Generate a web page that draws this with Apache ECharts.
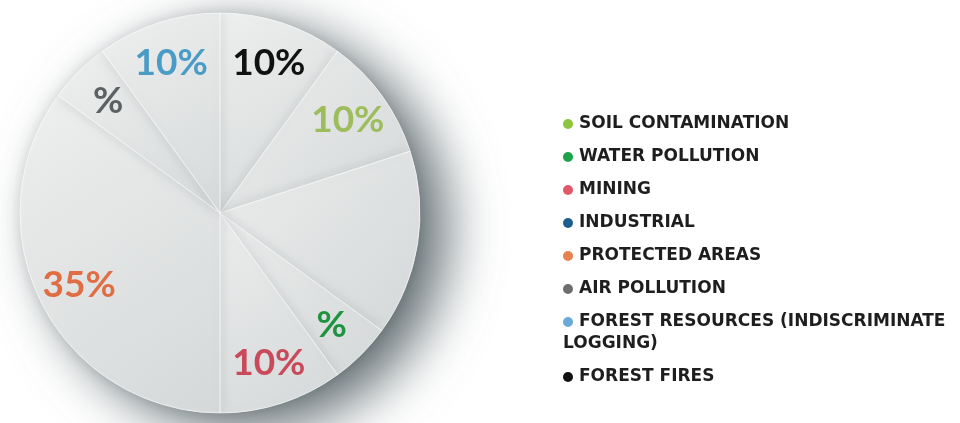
<!DOCTYPE html>
<html><head><meta charset="utf-8">
<script src="https://cdn.jsdelivr.net/npm/echarts@6/dist/echarts.min.js"></script>
<style>html,body{margin:0;padding:0;background:#fff}#c{width:960px;height:423px}</style>
</head><body><div id="c"></div>
<script>
// Slices in clockwise order from 12 o'clock
const names = ['FOREST FIRES','SOIL CONTAMINATION','INDUSTRIAL','WATER POLLUTION','MINING','PROTECTED AREAS','AIR POLLUTION','FOREST RESOURCES (INDISCRIMINATE LOGGING)'];
const values = [10, 10, 15, 5, 10, 35, 5, 10];
const labelTexts = ['10%','10%','','%','10%','35%','%','10%'];
const labelColors = ['#111111','#9dbd5c','#1d5c8a','#1e9440','#c94a5b','#e06e45','#5c6163','#4a9cc6'];
// Legend order
const legendNames = ['SOIL CONTAMINATION','WATER POLLUTION','MINING','INDUSTRIAL','PROTECTED AREAS','AIR POLLUTION','FOREST RESOURCES (INDISCRIMINATE LOGGING)','FOREST FIRES'];
const legendDots = ['#8cc63f','#1ea24b','#e25868','#1d5e8e','#e8804f','#6d6e70','#6aaad8','#111111'];

const chart = echarts.init(document.getElementById('c'));
const rich = { g: { width: 6 } };
legendDots.forEach((c, i) => { rich['d' + i] = { width: 10, height: 10, borderRadius: 5, backgroundColor: c }; });

function sliceFill(i) {
  return new echarts.graphic.LinearGradient(0, 0, 1, 1, [
    { offset: 0, color: '#f2f3f3' },
    { offset: 1, color: '#d9dcdc' }
  ]);
}

chart.setOption({
  animation: false,
  legend: {
    orient: 'vertical', left: 553, top: 108,
    icon: 'none', itemWidth: 0, itemHeight: 10, itemGap: 11,
    selectedMode: false,
    data: legendNames,
    formatter: function (n) {
      const i = legendNames.indexOf(n);
      return '{d' + i + '|}{g|}' + n.replace('(INDISCRIMINATE ', '(INDISCRIMINATE\n');
    },
    textStyle: { fontFamily: 'DejaVu Sans', fontWeight: 'bold', fontSize: 17, color: '#1e1e1e', lineHeight: 22, rich: rich }
  },
  series: [
    {
      type: 'pie', center: [220, 213], radius: [0, 200], silent: true, z: 1,
      label: { show: false }, labelLine: { show: false },
      data: [{ value: 1, name: '_bg', itemStyle: {
        color: new echarts.graphic.LinearGradient(0, 0, 1, 1, [{ offset: 0, color: '#f4f5f5' }, { offset: 1, color: '#cfd3d4' }]),
        shadowBlur: 55, shadowOffsetX: 26, shadowOffsetY: 16, shadowColor: 'rgba(55,70,75,0.8)' } }]
    },
    {
      type: 'pie', center: [220, 213], radius: [0, 200], silent: true, z: 2,
      startAngle: 90, clockwise: true,
      label: { show: false }, labelLine: { show: false },
      data: names.map((n, i) => ({ name: n, value: values[i], itemStyle: {
        color: sliceFill(i), opacity: 0.85,
        borderColor: 'rgba(255,255,255,0.7)', borderWidth: 1,
        shadowBlur: 14, shadowColor: 'rgba(60,70,75,0.18)' } }))
    },
    {
      type: 'pie', center: [220, 213], radius: [110, 200], silent: true, z: 3,
      startAngle: 90, clockwise: true,
      labelLine: { show: false },
      label: { show: true, position: 'inside', fontFamily: 'Lato', fontSize: 37, fontWeight: 'bold',
        formatter: function (p) { return labelTexts[p.dataIndex]; } },
      data: names.map((n, i) => ({ name: n, value: values[i],
        itemStyle: { color: 'rgba(0,0,0,0)' },
        label: { color: labelColors[i] } }))
    }
  ]
});
</script></body></html>
